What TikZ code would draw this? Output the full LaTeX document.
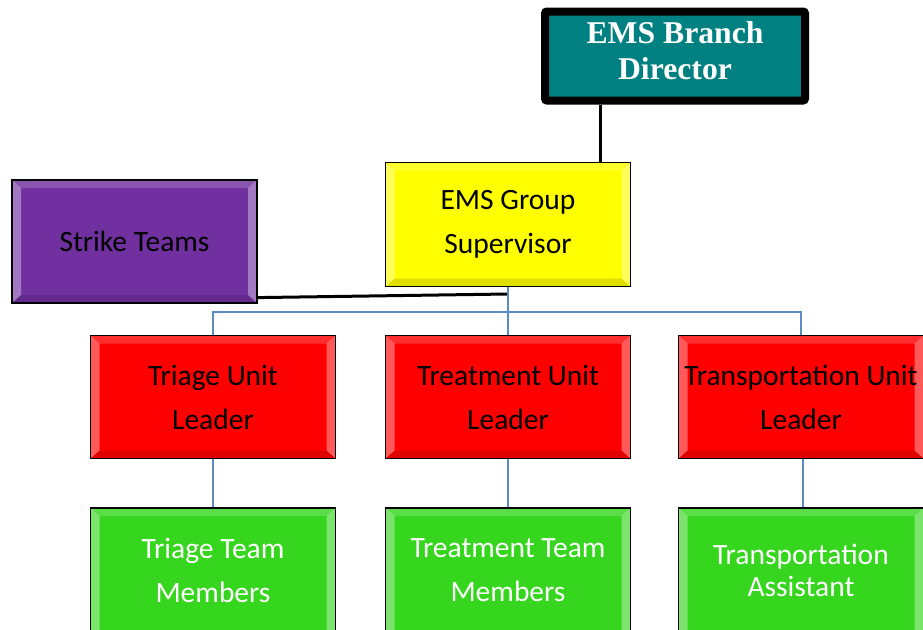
\documentclass[tikz,border=0pt]{standalone}
\usepackage{fontspec}
\setmainfont{Carlito}
\newfontfamily\dirfont{Liberation Serif}
\definecolor{teal1}{HTML}{008080}
\definecolor{yel}{HTML}{FFFF00}
\definecolor{purp}{HTML}{7030A0}
\definecolor{redb}{HTML}{FF0000}
\definecolor{grn}{HTML}{36D61F}
\definecolor{blu}{HTML}{5B8BC0}
\tikzset{
  bevel/.style={path picture={
    \fill[white,opacity=0.35] (path picture bounding box.north west) -- (path picture bounding box.south west)
      -- ([shift={(9pt,8pt)}]path picture bounding box.south west) -- ([shift={(9pt,-8pt)}]path picture bounding box.north west) -- cycle;
    \fill[white,opacity=0.35] (path picture bounding box.north east) -- (path picture bounding box.south east)
      -- ([shift={(-9pt,8pt)}]path picture bounding box.south east) -- ([shift={(-9pt,-8pt)}]path picture bounding box.north east) -- cycle;
    \fill[white,opacity=0.18] (path picture bounding box.north west) -- (path picture bounding box.north east)
      -- ([shift={(-9pt,-8pt)}]path picture bounding box.north east) -- ([shift={(9pt,-8pt)}]path picture bounding box.north west) -- cycle;
    \fill[black,opacity=0.12] (path picture bounding box.south west) -- (path picture bounding box.south east)
      -- ([shift={(-9pt,8pt)}]path picture bounding box.south east) -- ([shift={(9pt,8pt)}]path picture bounding box.south west) -- cycle;
  }},
  box/.style={draw=black, line width=1.2pt, minimum width=245pt, minimum height=123pt, inner sep=0pt,
    align=center, font=\fontsize{29.5}{44}\selectfont, bevel},
  greenbox/.style={box, fill=grn, text=white, minimum height=132pt, text depth=8pt},
  dirbox/.style={draw=black, line width=8pt, rounded corners=2pt, fill=teal1, minimum width=260pt, minimum height=89pt,
    inner sep=0pt, align=center, text=white, text depth=10pt, font=\dirfont\bfseries\fontsize{31.7}{36}\selectfont},
  blk/.style={draw=black, line width=3pt},
  bl/.style={draw=blu, line width=2.5pt},
}
\begin{document}
\begin{tikzpicture}[x=1pt,y=-1pt]
\useasboundingbox (0,0) rectangle (923,629);
\fill[white] (0,0) rectangle (923,629);
% nodes
\node[dirbox] (dir) at (675,56) {EMS Branch\\Director};
\node[box, fill=yel, minimum height=124pt] (sup) at (508,224.5) {EMS Group\\Supervisor};
\node[box, fill=purp] (strike) at (134.5,241.5) {Strike Teams};
\node[box, fill=redb] (tl) at (213,397) {Triage Unit\\Leader};
\node[box, fill=redb] (rl) at (508,397) {Treatment Unit\\Leader};
\node[box, fill=redb] (pl) at (801,397) {Transportation Unit\\Leader};
\node[greenbox] (tm) at (213,574) {Triage Team\\Members};
\node[greenbox] (rm) at (508,574) {Treatment Team\\Members};
\node[greenbox, font=\fontsize{29.5}{32}\selectfont] (pa) at (801,574) {Transportation\\Assistant};
% connectors
\draw[blk] (dir.south -| 600,0) -- (sup.north -| 600,0);
\coordinate (sj) at (508,294);
\draw[blk] ([yshift=6pt]strike.south east) -- (sj);
\coordinate (bus) at (508,312);
\draw[bl] (sup.south) -- (bus);
\draw[bl] (tl.north) |- (bus) -| (pl.north);
\draw[bl] (bus) -- (rl.north);
\draw[bl] (tl.south) -- (tm.north);
\draw[bl] (rl.south) -- (rm.north);
\draw[bl] (pl.south -| 803,0) -- (pa.north -| 803,0);
\end{tikzpicture}
\end{document}
